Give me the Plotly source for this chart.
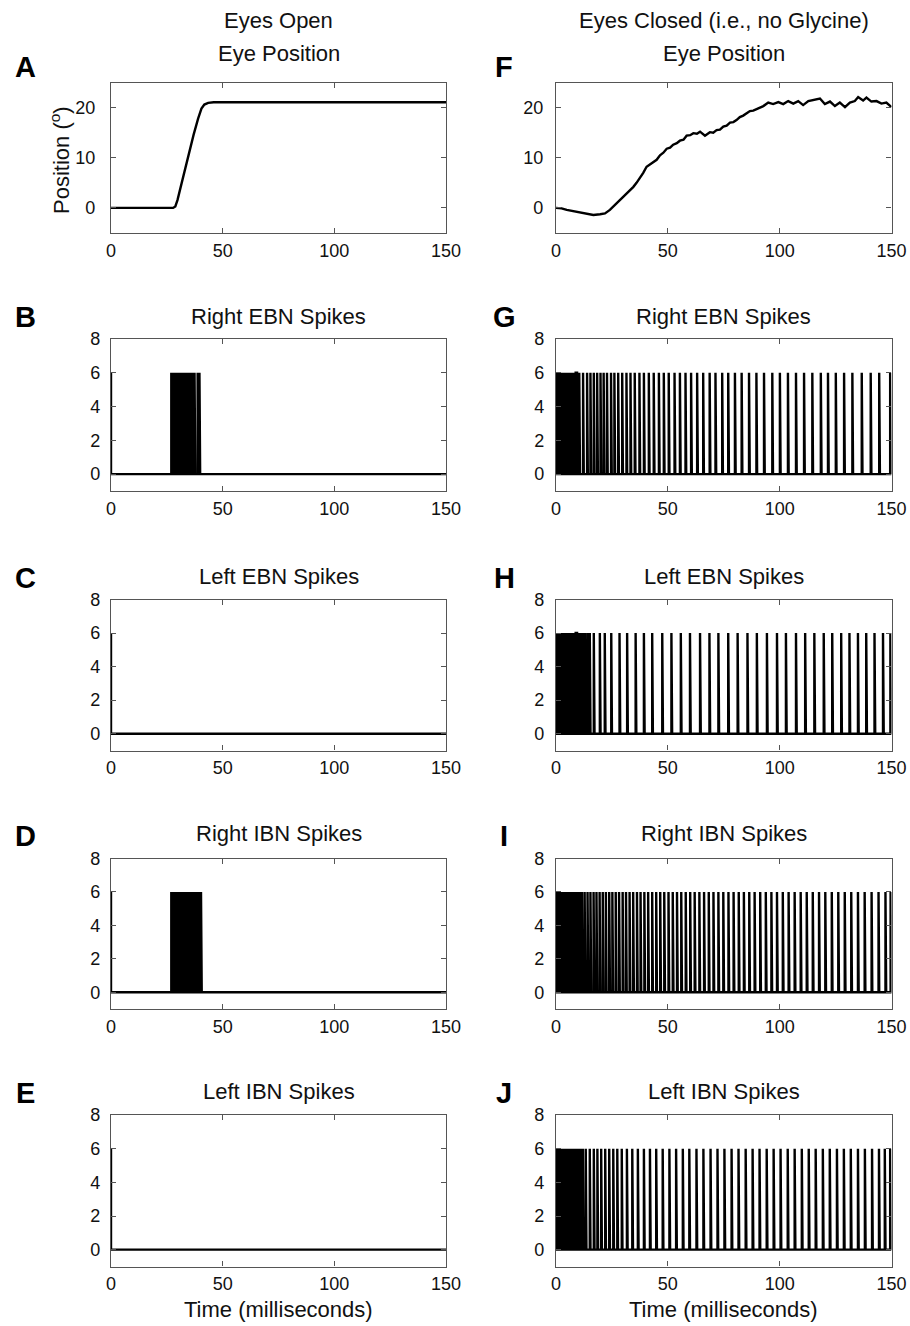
import plotly.graph_objects as go

FONT = "Liberation Sans, Arial, Helvetica, sans-serif"
W, H = 910, 1326

# ---------------- data ----------------
x_ticks = [0, 50, 100, 150]
pos_ticks = [0, 10, 20]
spike_ticks = [0, 2, 4, 6, 8]

# Eye position, eyes open (ms, degrees)
t_pos_open = [0, 27.8, 28.8, 29.8, 31.0, 33.0, 35.0, 37.0, 39.0, 40.5, 41.8, 43.5, 46.0, 150]
pos_open = [0, 0, 0.3, 1.6, 3.8, 7.6, 11.2, 14.6, 17.8, 19.8, 20.6, 20.95, 21.05, 21.05]

# Eye position, eyes closed (ms, degrees)
t_pos_closed = [0, 2.5, 4.8, 7.0, 9.2, 11.5, 13.7, 16.7, 19.7, 21.9, 24.1, 26.4, 28.6, 30.0, 31.6,
                33.0, 34.6, 36.0, 37.5, 39.0, 40.5, 42.0, 43.5, 45.0, 46.5, 48.0, 49.5, 51.0, 52.4,
                54.0, 55.4, 57.0, 58.4, 60.0, 61.4, 63.0, 64.4, 66.6, 68.8, 70.3, 71.8, 73.3, 74.8,
                76.3, 77.8, 79.3, 80.7, 82.2, 83.7, 85.2, 86.7, 88.2, 89.7, 91.2, 92.7, 94.9, 97.1,
                99.4, 101.6, 103.8, 106.1, 108.3, 110.5, 112.8, 115.7, 118.0, 120.2, 122.5, 124.7,
                126.9, 129.2, 131.4, 133.6, 135.1, 137.3, 138.8, 141.0, 143.3, 145.5, 147.7, 150]
pos_closed = [0.0, -0.1, -0.4, -0.6, -0.85, -1.0, -1.2, -1.4, -1.25, -1.1, -0.4, 0.6, 1.6, 2.0, 2.7,
              3.4, 4.2, 5.0, 5.9, 7.0, 8.2, 8.7, 9.1, 9.6, 10.5, 11.0, 11.8, 12.0, 12.6,
              12.9, 13.4, 13.6, 14.4, 14.5, 14.9, 14.8, 15.2, 14.4, 15.1, 15.0, 15.5, 15.6, 16.2,
              16.4, 17.0, 17.1, 17.5, 18.1, 18.4, 18.8, 19.3, 19.4, 19.7, 20.1, 20.3, 21.0, 20.7,
              21.1, 20.7, 21.3, 20.8, 21.3, 20.5, 21.3, 21.6, 21.8, 20.7, 21.2, 20.3,
              21.0, 20.1, 21.0, 21.3, 22.1, 21.4, 22.0, 21.2, 21.3, 20.8, 21.0, 20.1]

spike_height = 6

# Spike times (ms) -- eyes open
right_ebn_open = [0, 27.0, 27.4, 27.8, 28.2, 28.6, 29.0, 29.4, 29.8, 30.2, 30.6, 31.0, 31.4, 31.8,
                  32.2, 32.6, 33.0, 33.4, 33.8, 34.2, 34.6, 35.0, 35.4, 35.8, 36.2, 36.6, 37.0,
                  37.4, 38.8, 39.2, 39.6]
left_ebn_open = [0]
right_ibn_open = [0, 27.0, 27.4, 27.8, 28.2, 28.6, 29.0, 29.4, 29.8, 30.2, 30.6, 31.0, 31.4, 31.8,
                  32.2, 32.6, 33.0, 33.4, 33.8, 34.2, 34.6, 35.0, 35.4, 35.8, 36.2, 36.6, 37.0,
                  37.4, 37.8, 38.2, 38.6, 39.0, 39.4, 39.8, 40.3]
left_ibn_open = [0]

# Spike times (ms) -- eyes closed
right_ebn_closed = [0, 0.4, 0.8, 1.2, 1.6, 2.0, 2.4, 2.8, 3.2, 3.6, 4.0, 4.4, 4.8, 5.2, 5.6, 6.0,
                    6.4, 6.8, 7.2, 7.6, 8.0, 8.4, 8.8, 9.1,
                    10.4, 12.1, 13.9, 15.4, 16.9, 18.4, 19.9, 21.3, 22.8, 24.6, 26.1, 27.8, 29.6,
                    31.5, 33.3, 35.2, 37.3, 39.3, 41.5, 43.7, 46.0, 48.2, 50.4, 53.0, 55.4, 57.9,
                    60.4, 63.1, 65.8, 68.7, 71.3, 74.3, 77.0, 80.0, 83.0, 86.3, 89.6, 93.0, 96.7,
                    100.1, 103.7, 107.3, 110.9, 114.6, 118.4, 121.6, 125.1, 128.8, 132.5, 136.7,
                    140.7, 144.5, 149.4]
left_ebn_closed = [0, 0.4, 0.8, 1.2, 1.6, 2.0, 2.4, 2.8, 3.2, 3.6, 4.0, 4.4, 4.8, 5.2, 5.6, 6.0,
                   6.4, 6.8, 7.2, 7.6, 8.0, 8.4, 8.8, 9.1,
                   10.2, 11.1, 12.0, 13.0, 14.1, 15.1, 16.9, 19.6, 21.8, 24.7, 28.4, 31.8, 35.6,
                   39.3, 43.0, 47.5, 51.6, 55.8, 59.9, 64.4, 68.6, 72.6, 77.0, 81.2, 85.6, 89.8,
                   94.3, 98.8, 102.8, 107.3, 111.4, 115.5, 119.7, 123.5, 127.5, 131.2, 135.0,
                   138.7, 142.4, 146.2, 149.5]
right_ibn_closed = [0, 0.4, 0.8, 1.2, 1.6, 2.0, 2.4, 2.8, 3.2, 3.6, 4.0, 4.4, 4.8, 5.2, 5.6, 6.0,
                    6.4, 6.8, 7.2, 7.6, 8.0, 8.4, 8.8, 9.2, 9.6, 10.0, 10.4, 10.8, 11.2, 11.6,
                    12.8, 14.1, 15.4, 16.8, 18.1, 19.5, 20.9, 22.3, 23.8, 25.2, 26.7, 28.2, 29.8,
                    31.3, 32.9, 34.5, 36.2, 37.8, 39.5, 41.2, 43.0, 44.8, 46.6, 48.4, 50.3, 52.2,
                    54.1, 56.0, 58.0, 60.0, 62.0, 64.1, 66.2, 68.3, 70.4, 72.6, 74.8, 77.1, 79.4,
                    81.7, 84.0, 86.4, 88.8, 91.3, 93.8, 96.3, 98.8, 101.4, 104.0, 106.7, 109.4,
                    112.1, 114.8, 117.6, 120.4, 123.3, 126.2, 129.1, 132.0, 135.0, 138.0, 141.1,
                    144.2, 147.3, 149.6]
left_ibn_closed = [0, 0.4, 0.8, 1.2, 1.6, 2.0, 2.4, 2.8, 3.2, 3.6, 4.0, 4.4, 4.8, 5.2, 5.6, 6.0,
                   6.4, 6.8, 7.2, 7.6, 8.0, 8.4, 8.8, 9.2, 9.6, 10.0, 10.4, 10.8, 11.2, 11.6, 12.0,
                   13.3, 15.1, 16.9, 18.5, 20.2, 22.0, 23.8, 25.6, 27.4, 29.4, 31.7, 34.1, 36.6,
                   39.3, 42.0, 44.8, 47.7, 50.7, 53.7, 56.7, 59.6, 62.8, 65.9, 69.1, 72.2, 75.3,
                   78.5, 81.6, 84.8, 87.9, 91.0, 94.2, 97.3, 100.4, 103.6, 106.7, 109.9, 113.0,
                   116.1, 119.3, 122.4, 125.6, 128.7, 131.8, 135.0, 138.1, 141.3, 144.4, 147.0,
                   149.4]

column_titles = ["Eyes Open", "Eyes Closed (i.e., no Glycine)"]
panel_titles = ["Eye Position", "Right EBN Spikes", "Left EBN Spikes", "Right IBN Spikes", "Left IBN Spikes"]
panel_letters = [["A", "B", "C", "D", "E"], ["F", "G", "H", "I", "J"]]
x_title = "Time (milliseconds)"
y_title = "Position (<sup>o</sup>)"

# ---------------- layout geometry (pixels) ----------------
col_px = [(111, 446), (556, 891.5)]
row_px = [(82.5, 233), (339, 491), (599.5, 750.5), (858.5, 1009), (1115, 1266.5)]
title_y = [54, 316, 576, 833, 1091]
letter_y = [67, 317, 577.5, 835.5, 1093]
letter_x = [25, 504]
ytick_standoff = [[11, 8], [6, 7], [6, 7], [6, 7], [6, 7]]

PULSE_W = 0.32


def spike_path(times, height):
    xs, ys = [], []
    for t in times:
        if t == 0:
            # initial value of the trace sits on the left axis
            xs += [0, 0]
            ys += [height, 0]
        else:
            xs += [t, t, t + PULSE_W, t + PULSE_W]
            ys += [0, height, height, 0]
    if not xs or xs[0] != 0:
        xs, ys = [0] + xs, [0] + ys
    xs.append(150)
    ys.append(0)
    return xs, ys


series = [
    [("pos", t_pos_open, pos_open), ("pos", t_pos_closed, pos_closed)],
    [("sp", right_ebn_open), ("sp", right_ebn_closed)],
    [("sp", left_ebn_open), ("sp", left_ebn_closed)],
    [("sp", right_ibn_open), ("sp", right_ibn_closed)],
    [("sp", left_ibn_open), ("sp", left_ibn_closed)],
]

fig = go.Figure()
layout = dict(
    width=W, height=H, margin=dict(l=0, r=0, t=0, b=0, autoexpand=False),
    paper_bgcolor="white", plot_bgcolor="white", showlegend=False,
    font=dict(family=FONT, color="#111"),
)
annotations = []

axis_common = dict(
    showline=True, linecolor="#555", linewidth=1.2, mirror="ticks",
    ticks="inside", ticklen=5, tickwidth=1, tickcolor="#555",
    showgrid=False, zeroline=False, automargin=False,
    tickfont=dict(family=FONT, size=18, color="#111"),
)

idx = 0
for r in range(5):
    for c in range(2):
        idx += 1
        xa = "x" if idx == 1 else f"x{idx}"
        ya = "y" if idx == 1 else f"y{idx}"
        xl, xr = col_px[c]
        yt, yb = row_px[r]
        layout["xaxis" if idx == 1 else f"xaxis{idx}"] = dict(
            axis_common, domain=[xl / W, xr / W], range=[0, 150],
            tickvals=x_ticks, anchor=ya, ticklabelstandoff=1,
        )
        if r == 0:
            yrange, yt_vals = [-5, 25], pos_ticks
        else:
            yrange, yt_vals = [-1, 8], spike_ticks
        layout["yaxis" if idx == 1 else f"yaxis{idx}"] = dict(
            axis_common, domain=[1 - yb / H, 1 - yt / H], range=yrange,
            tickvals=yt_vals, anchor=xa, ticklabelstandoff=ytick_standoff[r][c],
        )
        s = series[r][c]
        if s[0] == "pos":
            xs, ys = s[1], s[2]
        else:
            xs, ys = spike_path(s[1], spike_height)
        fig.add_trace(go.Scatter(x=xs, y=ys, mode="lines", xaxis=xa, yaxis=ya,
                                 line=dict(color="black", width=2.4), hoverinfo="skip"))
        annotations.append(dict(text=panel_titles[r], x=(xl + xr) / 2 / W, y=1 - title_y[r] / H,
                                xref="paper", yref="paper", showarrow=False,
                                xanchor="center", yanchor="middle",
                                font=dict(family=FONT, size=22, color="#111")))
        annotations.append(dict(text="<b>" + panel_letters[c][r] + "</b>", x=letter_x[c] / W,
                                y=1 - letter_y[r] / H, xref="paper", yref="paper",
                                showarrow=False, xanchor="center", yanchor="middle",
                                font=dict(family=FONT, size=29, color="#000")))

for c in range(2):
    xl, xr = col_px[c]
    annotations.append(dict(text=column_titles[c], x=(xl + xr) / 2 / W, y=1 - 21 / H,
                            xref="paper", yref="paper", showarrow=False,
                            xanchor="center", yanchor="middle",
                            font=dict(family=FONT, size=22, color="#111")))
    annotations.append(dict(text=x_title, x=(xl + xr) / 2 / W, y=1 - 1309 / H,
                            xref="paper", yref="paper", showarrow=False,
                            xanchor="center", yanchor="middle",
                            font=dict(family=FONT, size=22, color="#111")))

annotations.append(dict(text=y_title, x=60 / W, y=1 - 160 / H, xref="paper", yref="paper",
                        showarrow=False, textangle=-90, xanchor="center", yanchor="middle",
                        font=dict(family=FONT, size=22, color="#111")))

layout["annotations"] = annotations
fig.update_layout(**layout)
fig.write_html("out.html", config={"displayModeBar": False},
               post_script="document.body.style.margin='0';document.body.style.overflow='hidden';")
